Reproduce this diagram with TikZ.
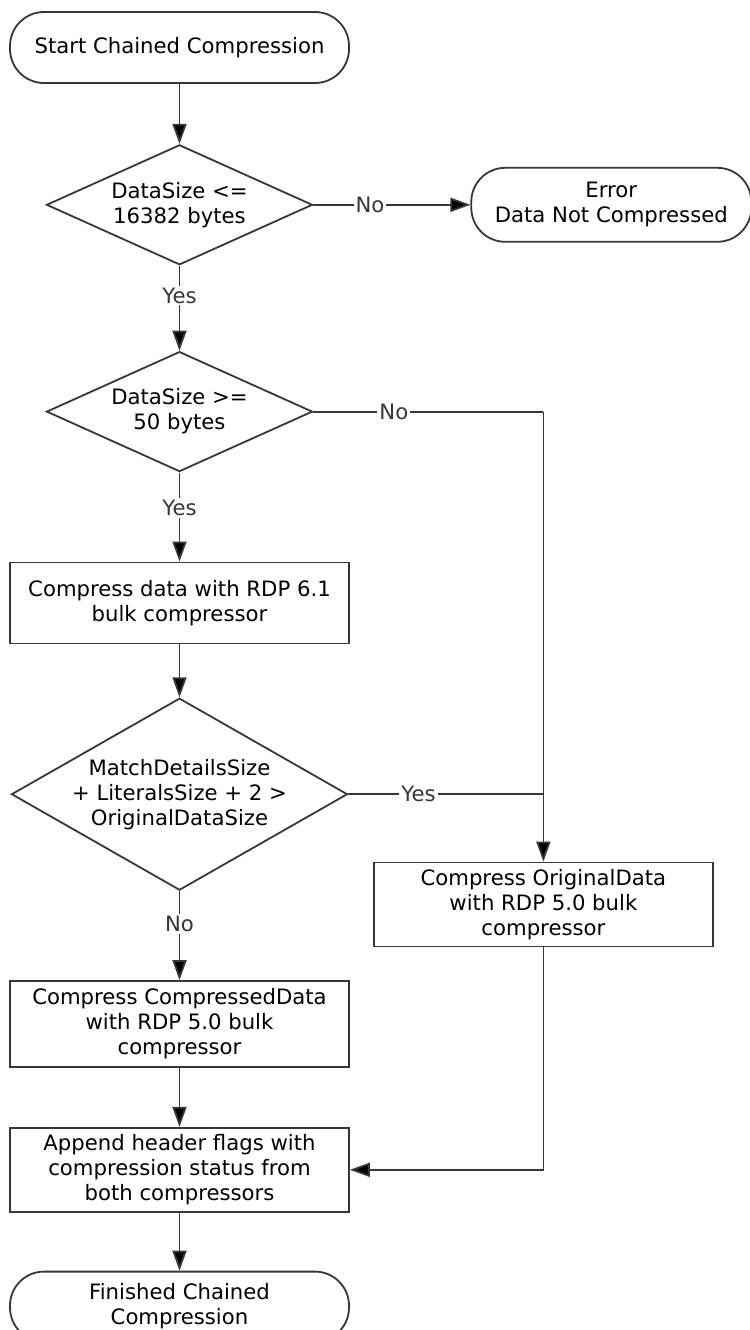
\documentclass[tikz,border=0pt]{standalone}
\usepackage{fontspec}
\setmainfont{DejaVu Sans}
\usetikzlibrary{arrows.meta,positioning,shapes.geometric}
\definecolor{lineaGris}{RGB}{55,55,55}

\begin{document}
\begin{tikzpicture}[
     base/.style={draw=lineaGris, line width=0.9pt, align=center,
                  font=\fontsize{10.6pt}{12.5pt}\selectfont},
     term/.style={base, rectangle, rounded corners=17pt,
                  minimum width=169.5pt, minimum height=35.5pt},
     proc/.style={base, rectangle, minimum width=169.5pt},
     dec/.style={base, diamond, inner sep=0pt, aspect=2.2,
                 minimum width=133pt, minimum height=60pt},
     fl/.style={-{Triangle[length=10pt, width=7pt, fill=black]}, lineaGris, line width=0.9pt},
     ln/.style={lineaGris, line width=0.9pt},
     etq/.style={fill=white, inner sep=1pt, font=\fontsize{10.6pt}{12.5pt}\selectfont}]
    \useasboundingbox (-89.75pt,23.75pt) rectangle (285.25pt,-641.25pt);
    \node[term] (ini) {Start Chained Compression};
    \node[dec, below=30pt of ini] (d1) {DataSize <=\\16382 bytes};
    \node[term, right=78.5pt of d1, minimum width=140pt, minimum height=37pt] (err) {Error\\Data Not Compressed};
    \node[dec, below=42.5pt of d1] (d2) {DataSize >=\\50 bytes};
    \coordinate[right=115pt of d2] (c2);
    \node[proc, below=44.5pt of d2, minimum height=40.5pt] (b1) {Compress data with RDP 6.1\\bulk compressor};
    \node[dec, below=26.5pt of b1, aspect=1.75, minimum width=168pt, minimum height=96pt, inner sep=-2pt] (d3) {MatchDetailsSize\\+ LiteralsSize + 2 >\\OriginalDataSize};
    \node[proc, below=225pt of c2, minimum height=42pt] (od) {Compress OriginalData\\with RDP 5.0 bulk\\compressor};
    \node[proc, below=44.5pt of d3, minimum height=43pt] (cd) {Compress CompressedData\\with RDP 5.0 bulk\\compressor};
    \node[proc, below=29.5pt of cd, minimum height=42pt] (app) {Append header flags with\\compression status from\\both compressors};
    \node[term, below=29pt of app, minimum height=35pt] (fin) {Finished Chained\\Compression};
    \draw[fl] (ini) -- (d1);
    \draw[fl] (d1) -- node[etq, pos=0.36] {No} (err);
    \draw[fl] (d1) -- node[etq, pos=0.35] {Yes} (d2);
    \draw[ln] (d2) -- node[etq, pos=0.35] {No} (c2);
    \draw[fl] (c2) -- (od);
    \draw[fl] (d2) -- node[etq, pos=0.4] {Yes} (b1);
    \draw[fl] (b1) -- (d3);
    \draw[ln] (d3) -- node[etq, pos=0.36] {Yes} (c2 |- d3);
    \draw[fl] (d3) -- node[etq, pos=0.37] {No} (cd);
    \draw[fl] (cd) -- (app);
    \draw[fl] (od) |- (app);
    \draw[fl] (app) -- (fin);
  \end{tikzpicture}
\end{document}
